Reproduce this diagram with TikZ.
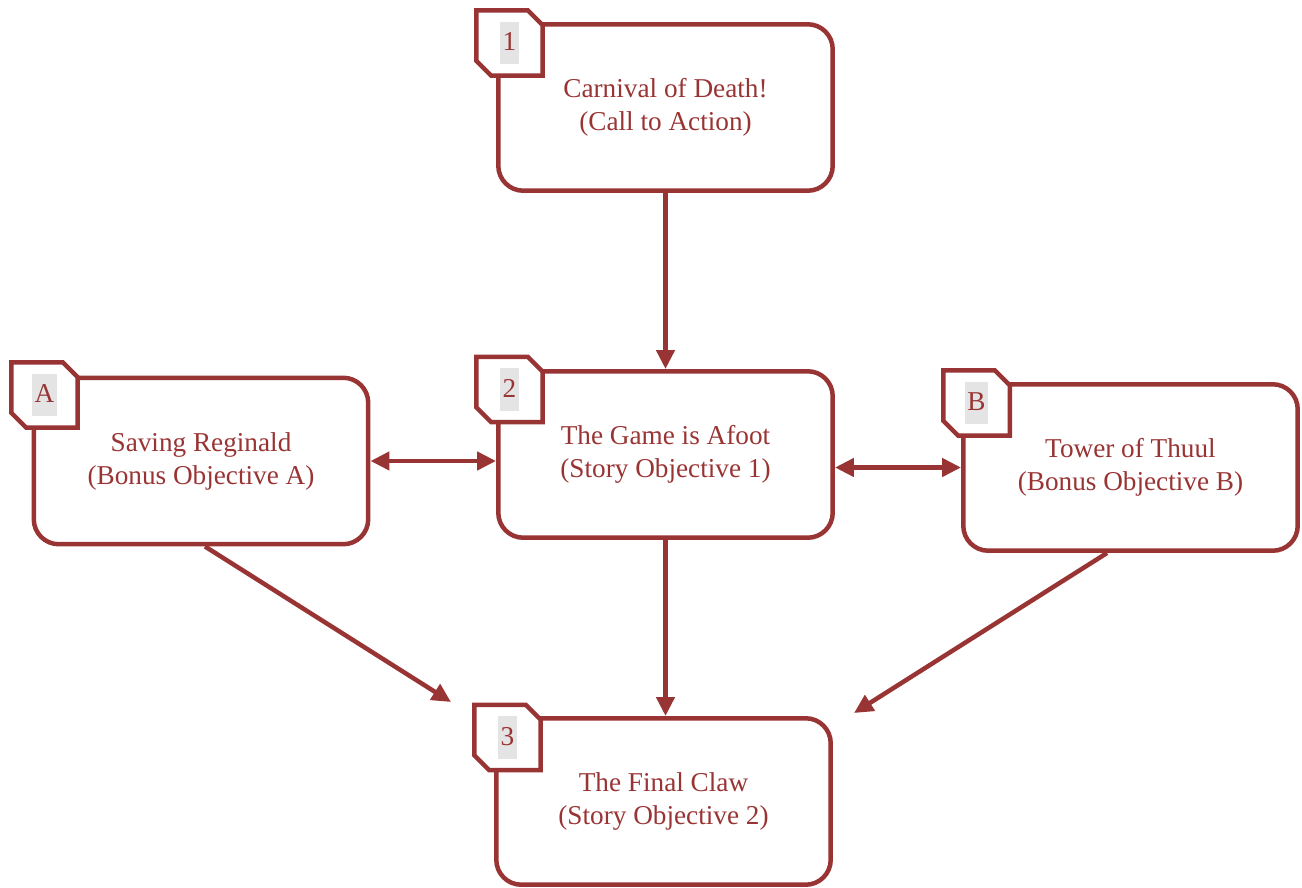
\documentclass[tikz,border=0pt]{standalone}
\usepackage{fontspec}
\setmainfont{Liberation Serif}
\usetikzlibrary{arrows.meta,shapes.misc}
\definecolor{questred}{RGB}{153,52,52}
\definecolor{tagshade}{RGB}{228,228,228}
\newlength{\questwidth}
\setlength{\questwidth}{6.69cm}
\newlength{\questheight}
\setlength{\questheight}{3.33cm}
\newcommand{\tagnum}[1]{{\setlength{\fboxsep}{1.5pt}\colorbox{tagshade}{\rule[-6pt]{0pt}{21pt}#1}}}

\tikzset{
    quest/.style={draw=questred, line width=0.09cm, rounded corners=0.5cm, fill=white,
        minimum width=\questwidth, minimum height=\questheight, align=center,
        text=questred, font=\fontsize{15.5}{18.8}\selectfont},
    questtag/.style={chamfered rectangle, chamfered rectangle corners={north east,south west},
        chamfered rectangle sep=0.15cm, draw=questred, line width=0.09cm, fill=white,
        minimum width=1.33cm, minimum height=1.31cm, inner sep=0pt,
        text=questred, font=\fontsize{15.5}{18.8}\selectfont},
    link/.style={draw=questred, line width=0.09cm, -{Triangle[length=0.38cm,width=0.36cm]}},
    twoway/.style={link, {Triangle[length=0.38cm,width=0.36cm]}-{Triangle[length=0.38cm,width=0.36cm]}}
}

\begin{document}
\begin{tikzpicture}[x=0.02cm, y=-0.02cm]
    \useasboundingbox (0,0) rectangle (1302,888);

    % quests
    \node[quest] (call) at (665.5,107.5) {Carnival of Death!\\(Call to Action)};
    \node[quest] (afoot) at (665.5,454.5) {The Game is Afoot\\(Story Objective 1)};
    \node[quest] (reginald) at (201,461) {Saving Reginald\\(Bonus Objective A)};
    \node[quest] (thuul) at (1130.5,467.5) {Tower of Thuul\\(Bonus Objective B)};
    \node[quest] (claw) at (663.5,801.5) {The Final Claw\\(Story Objective 2)};

    % number tags
    \node[questtag] (tag1) at (509.5,43) {\tagnum{1}};
    \node[questtag] (tag2) at (509.5,389.5) {\tagnum{2}};
    \node[questtag] (tagA) at (44.5,395) {\tagnum{A}};
    \node[questtag] (tagB) at (976.5,403) {\tagnum{B}};
    \node[questtag] (tag3) at (507.5,737.5) {\tagnum{3}};

    \coordinate (intoA) at (451,702);
    \coordinate (intoB) at (854,713);

    % links
    \draw[link] (call.south) -- (afoot.north);
    \draw[twoway] (reginald.east) -- (reginald.east -| afoot.west);
    \draw[twoway] (afoot.east |- thuul.west) -- (thuul.west);
    \draw[link] (afoot.south) -- (afoot.south |- claw.north);
    \draw[link] ([xshift=0.08cm]reginald.south) -- (intoA);
    \draw[link] ([xshift=-0.47cm]thuul.south) -- (intoB);
\end{tikzpicture}
\end{document}
